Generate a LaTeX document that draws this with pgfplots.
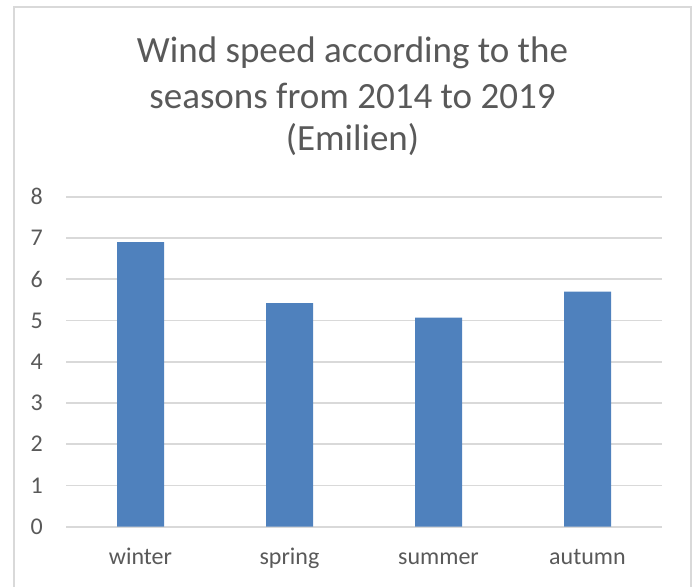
\documentclass[border=0pt]{standalone}
\usepackage{fontspec}
\setmainfont{Carlito}
\usepackage{pgfplots}
\pgfplotsset{compat=1.18}
\definecolor{barblue}{HTML}{4F81BD}
\definecolor{gridgray}{HTML}{D9D9D9}
\definecolor{textgray}{HTML}{595959}
\begin{document}
\begin{tikzpicture}[x=1pt,y=1pt]
\path[use as bounding box] (0,0) rectangle (693,586);
% chart frame
\draw[gridgray, line width=1.6pt] (14,-2) -- (14,579) -- (691,579) -- (691,-2);
% title
\begin{scope}[every node/.style={text=textgray, font=\fontsize{37}{44}\selectfont, inner sep=0pt, anchor=base}]
\node at (352.5,523.3) {Wind speed according to the};
\node at (352.5,477) {seasons from 2014 to 2019};
\node at (352.5,435) {(Emilien)};
\end{scope}
\begin{axis}[
  at={(66pt,59.3pt)}, anchor=south west,
  scale only axis, width=596pt, height=330pt,
  xmin=-0.5, xmax=3.5, ymin=0, ymax=8,
  ytick={0,1,...,8},
  xtick={0,1,2,3},
  xticklabels={winter,spring,summer,autumn},
  axis line style={draw=none},
  major tick length=0pt,
  ymajorgrids, grid style={gridgray, line width=1.8pt},
  /pgf/number format/assume math mode=true,
  tick label style={text=textgray, font=\fontsize{24}{28}\selectfont, inner sep=0pt},
  xticklabel style={anchor=base, yshift=-38.3pt},
  yticklabel style={anchor=east, xshift=-23pt},
  clip=false,
]
\draw[gridgray, line width=1.8pt] (axis cs:-0.5,0) -- (axis cs:3.5,0);
\addplot[ybar, bar width=47pt, fill=barblue, draw=none] coordinates {
  (0,6.90) (1,5.42) (2,5.07) (3,5.70)
};
\end{axis}
\end{tikzpicture}
\end{document}
